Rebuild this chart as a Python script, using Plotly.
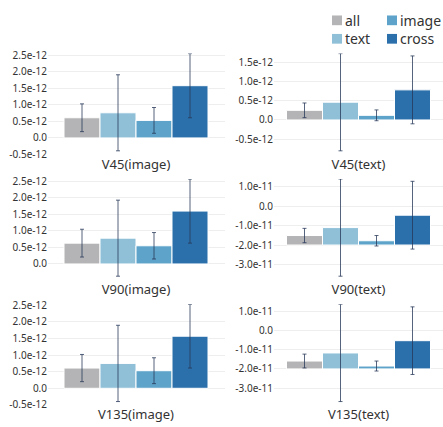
import plotly.graph_objects as go

# ---------------- data ----------------
groups = ["all", "text", "image", "cross"]
colors = ["#b4b4b6", "#8fc0d8", "#5ea4ca", "#2b70ab"]

panel_titles = ["V45(image)", "V45(text)", "V90(image)", "V90(text)", "V135(image)", "V135(text)"]

v45_image_vals = [0.61e-12, 0.76e-12, 0.53e-12, 1.58e-12]
v45_image_err = [0.42e-12, 1.15e-12, 0.39e-12, 0.97e-12]
v45_text_vals = [0.25e-12, 0.46e-12, 0.12e-12, 0.78e-12]
v45_text_err = [0.19e-12, 1.26e-12, 0.14e-12, 0.88e-12]
v90_image_vals = [0.63e-12, 0.78e-12, 0.55e-12, 1.60e-12]
v90_image_err = [0.42e-12, 1.15e-12, 0.40e-12, 0.97e-12]
v90_text_vals = [-1.51e-11, -1.10e-11, -1.78e-11, -0.46e-11]
v90_text_err = [0.37e-11, 2.51e-11, 0.27e-11, 1.75e-11]
v135_image_vals = [0.61e-12, 0.75e-12, 0.53e-12, 1.57e-12]
v135_image_err = [0.41e-12, 1.15e-12, 0.39e-12, 0.96e-12]
v135_text_vals = [-1.59e-11, -1.17e-11, -1.85e-11, -0.53e-11]
v135_text_err = [0.36e-11, 2.53e-11, 0.26e-11, 1.76e-11]

image_bar_base = 0.0
text_bar_base = -2.0e-11
v45_text_bar_base = 0.0

image_ticks = [-0.5e-12, 0.0, 0.5e-12, 1.0e-12, 1.5e-12, 2.0e-12, 2.5e-12]
image_ticklabels = ["-0.5e-12", "0.0", "0.5e-12", "1.0e-12", "1.5e-12", "2.0e-12", "2.5e-12"]
v45_text_ticks = [-0.5e-12, 0.0, 0.5e-12, 1.0e-12, 1.5e-12]
v45_text_ticklabels = ["-0.5e-12", "0.0", "0.5e-12", "1.0e-12", "1.5e-12"]
text_ticks = [-3.0e-11, -2.0e-11, -1.0e-11, 0.0, 1.0e-11]
text_ticklabels = ["-3.0e-11", "-2.0e-11", "-1.0e-11", "0.0", "1.0e-11"]

# ---------------- layout helpers ----------------
W, H = 443, 427
FONT = "Noto Sans"
panels = [
    (v45_image_vals, v45_image_err, image_bar_base, image_ticks, image_ticklabels, 0, 0),
    (v45_text_vals, v45_text_err, v45_text_bar_base, v45_text_ticks, v45_text_ticklabels, 0, 1),
    (v90_image_vals, v90_image_err, image_bar_base, image_ticks, image_ticklabels, 1, 0),
    (v90_text_vals, v90_text_err, text_bar_base, text_ticks, text_ticklabels, 1, 1),
    (v135_image_vals, v135_image_err, image_bar_base, image_ticks, image_ticklabels, 2, 0),
    (v135_text_vals, v135_text_err, text_bar_base, text_ticks, text_ticklabels, 2, 1),
]

row_top_px = [49, 178, 307]      # pixel of the data maximum
data_span_px = 100               # data extent (err min..max) spans this many px
plot_h_px = 104
col_px = [(48, 225, 136), (274, 443, 358.5)]  # left, right, center of bar group
px_per_unit_x = 180.0

fig = go.Figure()
layout = dict(
    width=W, height=H, margin=dict(l=0, r=0, t=0, b=0),
    paper_bgcolor="white", plot_bgcolor="white",
    barmode="group", bargap=0.2, bargroupgap=0,
    showlegend=False,
    font=dict(family=FONT, color="#333333"),
)

for i, (vals, errs, base, tv, tt, r, c) in enumerate(panels):
    k = "" if i == 0 else str(i + 1)
    for g, col, v, e in zip(groups, colors, vals, errs):
        fig.add_trace(go.Bar(
            x=[0], y=[v - base], base=[base], name=g,
            marker=dict(color=col, line=dict(color="white", width=1)),
            error_y=dict(type="data", array=[e], visible=True,
                         color="rgba(40,56,88,0.78)", thickness=1, width=2),
            xaxis="x" + k, yaxis="y" + k, showlegend=False,
            hoverinfo="skip",
        ))
    hi = max(v + e for v, e in zip(vals, errs))
    lo_d = min(v - e for v, e in zip(vals, errs))
    scale = data_span_px / (hi - lo_d)
    lo = hi - plot_h_px / scale
    top = row_top_px[r]
    bot = top + plot_h_px
    x0, x1, xc = col_px[c]
    layout["xaxis" + k] = dict(
        domain=[x0 / W, x1 / W],
        range=[-(xc - x0) / px_per_unit_x, (x1 - xc) / px_per_unit_x],
        anchor="y" + k, tickvals=[0], ticktext=[panel_titles[i]],
        showgrid=False, zeroline=False, showline=False, ticks="",
        tickfont=dict(size=13, color="#333333"), fixedrange=True,
    )
    layout["yaxis" + k] = dict(
        domain=[1 - bot / H, 1 - top / H],
        range=[lo, hi], anchor="x" + k,
        tickvals=tv, ticktext=tt,
        showgrid=True, gridcolor="#eeeeee", gridwidth=1,
        zeroline=False, showline=False, ticks="",
        tickfont=dict(size=10, color="#333333"), fixedrange=True,
    )

# legend drawn as swatches + text in a 2x2 grid
legend_pos = [(332, 9.75), (332, 28.75), (387, 9.75), (387, 28.75)]  # all, text, image, cross
shapes, annotations = [], []
for g, col, (lx, ly) in zip(groups, colors, legend_pos):
    shapes.append(dict(type="rect", xref="paper", yref="paper",
                       x0=lx / W, x1=(lx + 10) / W, y0=1 - (ly + 10) / H, y1=1 - ly / H,
                       fillcolor=col, line=dict(width=0)))
    annotations.append(dict(text=g, xref="paper", yref="paper", x=(lx + 12) / W,
                            y=1 - (ly + 5) / H, xanchor="left", yanchor="middle",
                            borderpad=0, showarrow=False,
                            font=dict(size=14, color="#333333")))
layout["shapes"] = shapes
layout["annotations"] = annotations

fig.update_layout(**layout)
fig.write_html(
    "out.html",
    config={"displayModeBar": False},
    post_script="document.body.style.margin='0';document.body.style.overflow='hidden';",
)
